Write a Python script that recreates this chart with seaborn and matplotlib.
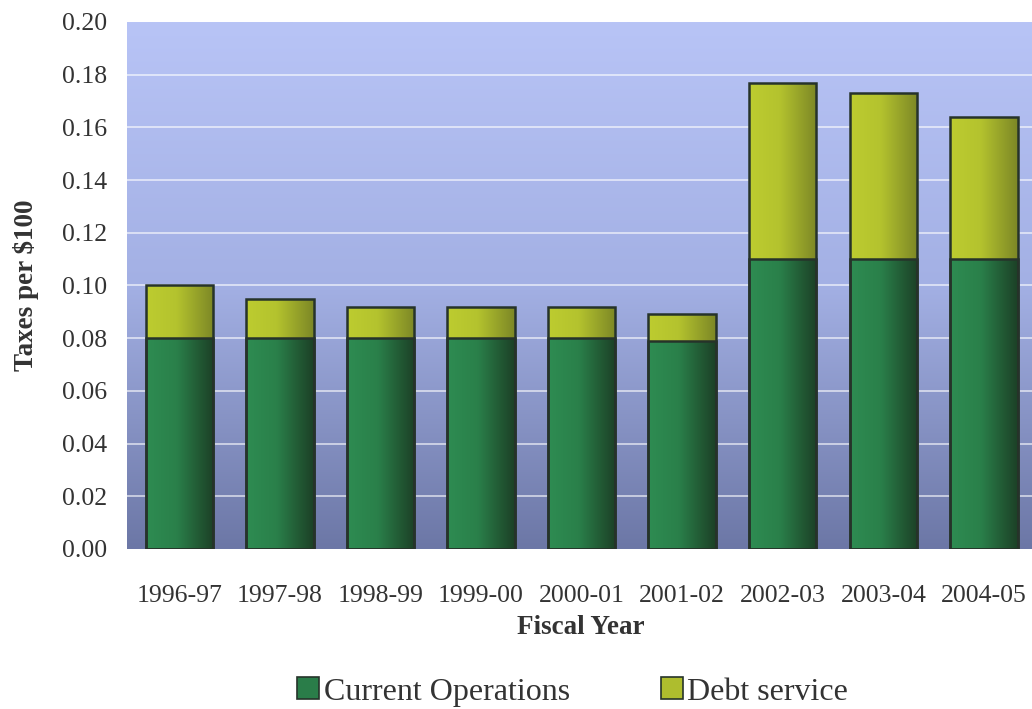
import numpy as np
import pandas as pd
import matplotlib
matplotlib.use("Agg")
import matplotlib.pyplot as plt
from matplotlib.colors import LinearSegmentedColormap
from matplotlib.patches import Patch
import seaborn as sns

years = ["1996-97", "1997-98", "1998-99", "1999-00", "2000-01",
         "2001-02", "2002-03", "2003-04", "2004-05"]
current_operations = [0.080, 0.080, 0.080, 0.080, 0.080, 0.079, 0.110, 0.110, 0.110]
debt_service = [0.020, 0.015, 0.012, 0.012, 0.012, 0.010, 0.067, 0.063, 0.054]
yticks = [0.00, 0.02, 0.04, 0.06, 0.08, 0.10, 0.12, 0.14, 0.16, 0.18, 0.20]

df = pd.DataFrame({
    "year": years,
    "current": current_operations,
    "total": np.add(current_operations, debt_service),
})

sns.set_theme(style="white")
plt.rcParams["font.family"] = ["Liberation Serif", "DejaVu Serif"]
text_color = "#333333"

fig = plt.figure(figsize=(10.32, 7.09), dpi=100)
ax = fig.add_axes([0.1231, 0.2257, 0.879, 0.7433])

green_light, green_dark = "#2e8c52", "#1c4026"
olive_light, olive_dark = "#bdcc30", "#7c8726"
edge = "#26332a"

# stacked bars: totals first, current operations drawn over the lower part
sns.barplot(data=df, x="year", y="total", color=olive_light, width=0.67,
            edgecolor=edge, linewidth=1.8, saturation=1, ax=ax, zorder=3)
n_debt = len(ax.patches)
sns.barplot(data=df, x="year", y="current", color=green_light, width=0.67,
            edgecolor=edge, linewidth=1.8, saturation=1, ax=ax, zorder=3)

# horizontal shading inside each bar
grad = np.linspace(0, 1, 256).reshape(1, -1)
cm_olive = LinearSegmentedColormap.from_list(
    "olive", [(0, olive_light), (0.45, "#b4c32e"), (1, olive_dark)])
cm_green = LinearSegmentedColormap.from_list(
    "green", [(0, green_light), (0.45, "#2a804a"), (1, green_dark)])
for i, p in enumerate(list(ax.patches)):
    x0, y0 = p.get_x(), p.get_y()
    w, h = p.get_width(), p.get_height()
    cmap = cm_olive if i < n_debt else cm_green
    z = 2.0 if i < n_debt else 2.5
    im = ax.imshow(grad, extent=[x0, x0 + w, y0, y0 + h], cmap=cmap,
                   aspect="auto", interpolation="bilinear", zorder=z)
    im.set_clip_path(p)
    p.set_facecolor("none")
    p.set_zorder(3)

# vertical background gradient of the plot area
bg = LinearSegmentedColormap.from_list("bg", ["#b8c4f6", "#a3b0e4", "#6c77a6"])
ax.imshow(np.linspace(0, 1, 256).reshape(-1, 1), extent=[0, 1, 0, 1],
          transform=ax.transAxes, cmap=bg, aspect="auto",
          interpolation="bilinear", zorder=0)

ax.set_xlim(-0.52, 8.5)
ax.set_ylim(0, 0.20)
ax.set_yticks(yticks)
ax.set_yticklabels([f"{v:.2f}" for v in yticks])
for y in yticks[1:-1]:
    ax.axhline(y, color="white", lw=1.1, alpha=0.75, zorder=1)

for s in ax.spines.values():
    s.set_visible(False)
ax.tick_params(axis="both", length=0, labelsize=18.5, colors=text_color)
ax.tick_params(axis="x", pad=26)
ax.tick_params(axis="y", pad=14)

ax.set_xlabel("Fiscal Year", fontsize=19.5, fontweight="bold",
              color=text_color, labelpad=6)
ax.set_ylabel("Taxes per $100", fontsize=19.5, fontweight="bold",
              color=text_color, labelpad=17)

handles = [Patch(facecolor="#2a7d49", edgecolor=edge, lw=1.2),
           Patch(facecolor="#aebd2e", edgecolor=edge, lw=1.2)]
fig.legend(handles, ["Current Operations", "Debt service"],
           loc="center", bbox_to_anchor=(0.555, 0.024), ncol=2, frameon=False,
           fontsize=23, handlelength=0.68, handleheight=0.68,
           handletextpad=0.15, columnspacing=2.85, labelcolor=text_color)

fig.savefig("out.png", dpi=100, facecolor="white")
